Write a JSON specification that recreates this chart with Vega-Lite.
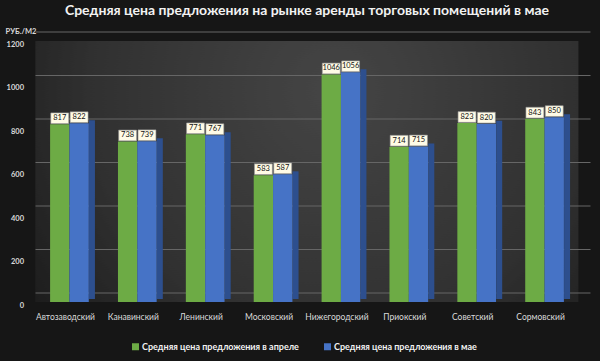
{
  "$schema": "https://vega.github.io/schema/vega-lite/v6.json",
  "width": 543,
  "height": 261,
  "autosize": {"type": "none"},
  "padding": {"left": 35.5, "top": 41, "right": 21.5, "bottom": 59},
  "background": "#161616",
  "config": {
    "font": "Lato",
    "view": {"stroke": null, "fill": {"gradient": "radial", "x1": 0.55, "y1": 0.35, "r1": 0, "x2": 0.55, "y2": 0.35, "r2": 0.75, "stops": [{"offset": 0, "color": "#454545"}, {"offset": 0.6, "color": "#303030"}, {"offset": 1, "color": "#161616"}]}}
  },
  "title": {
    "text": "Средняя цена предложения на рынке аренды торговых помещений в мае",
    "color": "#f2f2f2",
    "fontSize": 14,
    "fontWeight": "bold",
    "font": "Lato",
    "offset": 9,
    "anchor": "middle"
  },
  "datasets": {
    "bars": [
      {"district": "Автозаводский", "series": "Средняя цена предложения в апреле", "value": 817},
      {"district": "Автозаводский", "series": "Средняя цена предложения в мае", "value": 822},
      {"district": "Канавинский", "series": "Средняя цена предложения в апреле", "value": 738},
      {"district": "Канавинский", "series": "Средняя цена предложения в мае", "value": 739},
      {"district": "Ленинский", "series": "Средняя цена предложения в апреле", "value": 771},
      {"district": "Ленинский", "series": "Средняя цена предложения в мае", "value": 767},
      {"district": "Московский", "series": "Средняя цена предложения в апреле", "value": 583},
      {"district": "Московский", "series": "Средняя цена предложения в мае", "value": 587},
      {"district": "Нижегородский", "series": "Средняя цена предложения в апреле", "value": 1046},
      {"district": "Нижегородский", "series": "Средняя цена предложения в мае", "value": 1056},
      {"district": "Приокский", "series": "Средняя цена предложения в апреле", "value": 714},
      {"district": "Приокский", "series": "Средняя цена предложения в мае", "value": 715},
      {"district": "Советский", "series": "Средняя цена предложения в апреле", "value": 823},
      {"district": "Советский", "series": "Средняя цена предложения в мае", "value": 820},
      {"district": "Сормовский", "series": "Средняя цена предложения в апреле", "value": 843},
      {"district": "Сормовский", "series": "Средняя цена предложения в мае", "value": 850}
    ],
    "grid": [{"g": 0}, {"g": 200}, {"g": 400}, {"g": 600}, {"g": 800}, {"g": 1000}, {"g": 1200}]
  },
  "layer": [
    {
      "data": {"name": "grid"},
      "mark": {"type": "rule", "color": "#666666", "strokeWidth": 1, "xOffset": 12, "yOffset": -9},
      "encoding": {
        "y": {"field": "g", "type": "quantitative", "title": "РУБ./М2", "scale": {"domain": [0, 1200]}}
      }
    },
    {
      "data": {"name": "bars"},
      "transform": [{"filter": "datum.series === 'Средняя цена предложения в мае'"}],
      "mark": {"type": "bar", "width": 6, "xOffset": 22.5, "yOffset": -3, "color": "#2d4f8e"},
      "encoding": {
        "x": {"field": "district", "type": "nominal", "sort": null, "title": null, "scale": {"paddingInner": 0.43, "paddingOuter": 0.215}},
        "y": {"field": "value", "type": "quantitative", "title": "РУБ./М2"}
      }
    },
    {
      "data": {"name": "bars"},
      "mark": {"type": "bar"},
      "encoding": {
        "x": {"field": "district", "type": "nominal", "sort": null, "title": null,
          "axis": {"labelAngle": 0, "labelAlign": "center", "labelBaseline": "top", "labelOverlap": false, "ticks": false, "domain": false, "labelPadding": 10, "labelOffset": -4, "labelColor": "#d9d9d9", "labelFontSize": 8.5, "labelFont": "Lato"}},
        "xOffset": {"field": "series", "type": "nominal", "scale": {"domain": ["Средняя цена предложения в апреле", "Средняя цена предложения в мае"]}},
        "y": {"field": "value", "type": "quantitative", "title": "РУБ./М2",
          "axis": {"values": [0, 200, 400, 600, 800, 1000, 1200], "format": "d", "grid": false, "ticks": false, "domain": false, "labelPadding": 12, "labelOffset": 3, "labelColor": "#d9d9d9", "labelFontSize": 7.5, "labelFontWeight": "bold", "labelFont": "Lato",
            "titleAngle": 0, "titleAlign": "left", "titleBaseline": "middle", "titleX": -30.5, "titleY": -10, "titleFontSize": 7.5, "titleFontWeight": "bold", "titleColor": "#d9d9d9", "titleFont": "Lato"}},
        "color": {"field": "series", "type": "nominal",
          "scale": {"domain": ["Средняя цена предложения в апреле", "Средняя цена предложения в мае"], "range": ["#6dab45", "#4673c6"]},
          "legend": {"title": null, "orient": "none", "direction": "horizontal", "legendX": 95.5, "legendY": 301, "symbolType": "square", "symbolSize": 49, "symbolStrokeWidth": 0, "labelColor": "#f2f2f2", "labelFontSize": 9, "labelFontWeight": "bold", "labelFont": "Lato", "labelLimit": 400, "columnPadding": 24, "labelOffset": 2}}
      }
    },
    {
      "data": {"name": "bars"},
      "mark": {"type": "point", "shape": "M-1,-0.6L1,-0.6L1,0.6L-1,0.6Z", "size": 320, "filled": true, "fill": "#fffbe6", "stroke": "#9a9a9a", "strokeWidth": 0.6, "opacity": 1, "yOffset": -6},
      "encoding": {
        "x": {"field": "district", "type": "nominal", "sort": null, "title": null},
        "xOffset": {"field": "series", "type": "nominal"},
        "y": {"field": "value", "type": "quantitative", "title": "РУБ./М2"}
      }
    },
    {
      "data": {"name": "bars"},
      "mark": {"type": "text", "color": "#111111", "fontSize": 7.5, "font": "Lato", "baseline": "middle", "align": "center", "yOffset": -6},
      "encoding": {
        "x": {"field": "district", "type": "nominal", "sort": null, "title": null},
        "xOffset": {"field": "series", "type": "nominal"},
        "y": {"field": "value", "type": "quantitative", "title": "РУБ./М2"},
        "text": {"field": "value", "type": "quantitative"}
      }
    }
  ]
}
